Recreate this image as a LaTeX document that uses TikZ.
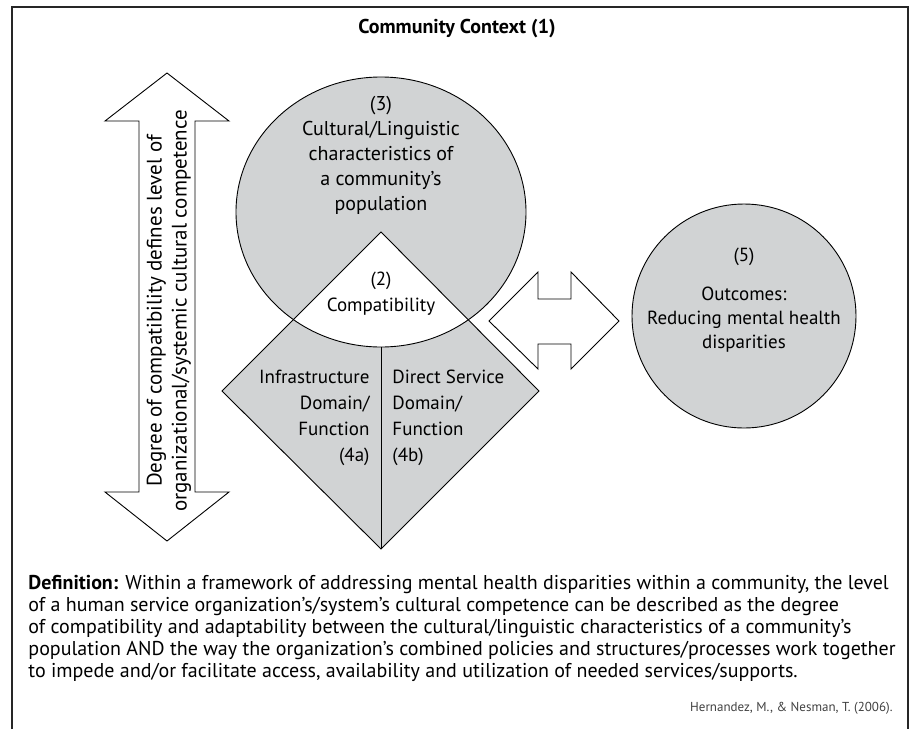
\documentclass[tikz,border=0pt]{standalone}
\usepackage{fontspec}
\setmainfont{PT Sans}
\usepackage{xcolor}
\definecolor{shade}{RGB}{209,211,212}

\begin{document}
\begin{tikzpicture}[x=1pt,y=-1pt,line width=0.9pt,
  label/.style={align=center,inner sep=0pt,font=\fontsize{19}{25}\selectfont},
  blockarrow/.style={draw=black,fill=white,line join=miter},
  shaded/.style={fill=shade}]
\useasboundingbox (0,0) rectangle (911,729);

% frame
\draw[line width=1.3pt,draw=black!85] (12,729) -- (12,7) -- (908,7) -- (908,729);
\node[font=\bfseries\fontsize{20}{24}\selectfont] (ContextTitle) at (457,29) {Community Context (1)};


% 3 and 4
\fill[shaded] (381,212) ellipse [x radius=145pt,y radius=135pt];
\fill[shaded] (381,232) -- (539,391) -- (381,549) -- (222,391) -- cycle;
% 2
\begin{scope}
\clip (381,232) -- (539,391) -- (381,549) -- (222,391) -- cycle;
\fill[white] (381,212) ellipse [x radius=145pt,y radius=135pt];
\end{scope}
\draw (381,212) ellipse [x radius=145pt,y radius=135pt];
\draw (381,232) -- (539,391) -- (381,549) -- (222,391) -- cycle;
\draw (381,347) -- (381,549);

\node[label,font=\fontsize{20}{25}\selectfont] (CultureText) at (381,155) {(3)\\Cultural/Linguistic\\characteristics of\\a community's\\population};
\node[label,font=\fontsize{19}{26}\selectfont] (CompatText) at (381,294) {(2)\\Compatibility};
\node[label,align=right,anchor=east,font=\fontsize{19}{26}\selectfont] (InfraText) at (370,418) {Infrastructure\\Domain/\\Function\\(4a)};
\node[label,align=left,anchor=west,font=\fontsize{19}{26}\selectfont] (DirectText) at (392,418) {Direct Service\\Domain/\\Function\\(4b)};

% 5
\fill[shaded] (744,316) circle [radius=112pt];
\draw (744,316) circle [radius=112pt];
\node[label,font=\fontsize{19}{24}\selectfont] (OutcomeText) at (744,300) {(5)\\[15pt]Outcomes:\\Reducing mental health\\disparities};

% arrows
\draw[blockarrow] (167,73) -- (229,121) -- (195,121) -- (195,492) -- (229,492) -- (167,541)
  -- (105,492) -- (139,492) -- (139,121) -- (105,121) -- cycle;
\node[label,rotate=90,font=\fontsize{21}{25}\selectfont] (DegreeText) at (169,311) {Degree of compatibility defines level of\\organizational/systemic cultural competence};

\draw[blockarrow] (489,321) -- (538,272) -- (538,299) -- (571,299) -- (571,272) -- (619,321)
  -- (571,369) -- (571,344) -- (538,344) -- (538,369) -- cycle;


% definition
\node[anchor=north west,align=left,inner sep=0pt,font=\fontsize{20}{22}\selectfont] (DefinitionText) at (28,575)
{\textbf{Definition:} Within a framework of addressing mental health disparities within a community, the level\\
of a human service organization's/system's cultural competence can be described as the degree\\
of compatibility and adaptability between the cultural/linguistic characteristics of a community's\\
population AND the way the organization's combined policies and structures/processes work together\\
to impede and/or facilitate access, availability and utilization of needed services/supports.};

\node[anchor=east,inner sep=0pt,text=black!75,font=\fontsize{13}{15}\selectfont] (SourceText) at (893,708) {Hernandez, M., \& Nesman, T. (2006).};

\end{tikzpicture}
\end{document}
